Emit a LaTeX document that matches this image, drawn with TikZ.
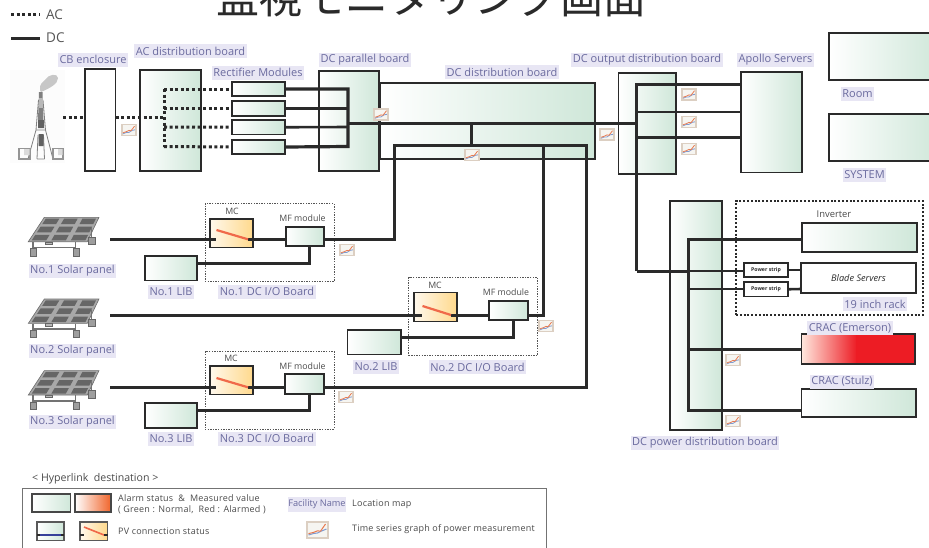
\documentclass[tikz,border=0pt]{standalone}
\usepackage{fontspec}
\setmainfont{Open Sans}
\newfontfamily\cjkfont{Noto Sans CJK JP}
\newfontfamily\legfont[LetterSpace=2.5]{Open Sans}
\usetikzlibrary{calc}
\definecolor{gr}{HTML}{CFE7D9}
\definecolor{lab}{HTML}{E8E6F4}
\definecolor{labt}{HTML}{6A6A9E}
\definecolor{ink}{HTML}{2A2A2A}
\definecolor{mcr}{HTML}{FFD98C}
\definecolor{mcl}{HTML}{FFF8EC}
\definecolor{sw}{HTML}{F0694A}
\definecolor{red1}{HTML}{ED1C24}
\definecolor{chf}{HTML}{DCCFC2}
\definecolor{chi}{HTML}{F6F5F1}
\definecolor{chb}{HTML}{7F9BD0}
\definecolor{chr}{HTML}{E8794F}
\definecolor{kor}{HTML}{F0642A}
\definecolor{kbl}{HTML}{36409A}
\definecolor{peach}{HTML}{FFE6DC}
\definecolor{midr}{HTML}{F26A4C}
\tikzset{
  gbox/.style={draw=ink,line width=1.4pt,left color=white,right color=gr,inner sep=0pt,outer sep=0pt,anchor=north west},
  wbox/.style={draw=ink,line width=1.4pt,fill=white,inner sep=0pt,outer sep=0pt,anchor=north west},
  mcbox/.style={draw=ink,line width=1.4pt,left color=mcl,right color=mcr,inner sep=0pt,outer sep=0pt,anchor=north west},
  dcl/.style={draw=ink,line width=3pt,line join=miter},
  dcn/.style={draw=ink,line width=2.6pt,line join=miter},
  acl/.style={draw=ink,line width=3pt,dash pattern=on 3pt off 2.6pt},
  dotbox/.style={draw=ink!80,line width=0.7pt,dash pattern=on 1.4pt off 1.2pt,inner sep=0pt,outer sep=0pt,anchor=north west},
  rackbox/.style={draw=ink,line width=2pt,dash pattern=on 2pt off 1.8pt,inner sep=0pt,outer sep=0pt,anchor=north west},
  lbl/.style={fill=lab,text=labt,font=\fontsize{11}{12}\selectfont,inner xsep=1.5pt,inner ysep=0pt,minimum height=14pt,outer sep=0pt},
  small/.style={text=ink!85,font=\fontsize{8.8}{10}\selectfont,inner sep=0pt},
  legt/.style={text=ink!85,font=\legfont\fontsize{9}{10}\selectfont,inner sep=0pt,anchor=west},
  sw line/.style={draw=sw,line width=2.2pt},
  chart/.pic={
    \path[fill=chf] (-8,-6.3) rectangle (8,6.3);
    \path[fill=chi] (-6.4,-4.8) rectangle (6.4,4.8);
    \draw[chb,line width=.8pt] (-6,3.8) -- (-3,2.6) -- (0,2.4) -- (3,.4) -- (6,-.2);
    \draw[chr,line width=.8pt] (-6,2.8) -- (-3,1.8) -- (0,.4) -- (2,.8) -- (5.5,-3.8);
  },
  bigchart/.pic={
    \path[fill=chf] (-11.5,-9) rectangle (11.5,9);
    \path[fill=chi] (-9.5,-7) rectangle (9.5,7);
    \draw[chb,line width=1pt] (-9,5) -- (-4,3.5) -- (0,3) -- (4,1) -- (9,-1);
    \draw[chr,line width=1pt] (-9,3.6) -- (-4,2.4) -- (0,.8) -- (3,1.2) -- (8,-6);
  },
  solar/.pic={
    \path[fill=black!34,draw=black!58,line width=.6pt] (44.3,217.3) -- (99,217.3) -- (87.3,241.7) -- (28.3,241.7) -- cycle;
    \foreach \i in {0,1,2}{\foreach \j in {0,1,2}{
      \pgfmathsetmacro\va{(\j+.16)/3}\pgfmathsetmacro\vb{(\j+.84)/3}
      \pgfmathsetmacro\ua{(\i+.13)/3}\pgfmathsetmacro\ub{(\i+.87)/3}
      \path[fill=black!60]
       ({44.3-16*\va+\ua*(54.7+4.3*\va)},{217.3+24.4*\va}) --
       ({44.3-16*\va+\ub*(54.7+4.3*\va)},{217.3+24.4*\va}) --
       ({44.3-16*\vb+\ub*(54.7+4.3*\vb)},{217.3+24.4*\vb}) --
       ({44.3-16*\vb+\ua*(54.7+4.3*\vb)},{217.3+24.4*\vb}) -- cycle;
    }}
    \draw[black!55,line width=1.6pt] (33,242) -- (33,249) (75.5,242) -- (75.5,249) (91.5,228) -- (91.5,238) (33,247.5) -- (76,247.5);
    \path[fill=black!38,draw=black!60,line width=.5pt] (30,248.5) rectangle (36.5,256) (73,248.5) rectangle (79.5,256) (88.3,237.3) rectangle (95,244.5);
    \path[fill=black!28,draw=black!60,line width=.4pt] (45,241.7) rectangle (51.7,244.3);
  },
}
\newcommand{\bxn}[7][]{\node[#2,minimum width={#6pt-#4pt},minimum height={#7pt-#5pt},#1] (#3) at (#4,#5) {};}
\begin{document}
\begin{tikzpicture}[x=1pt,y=-1pt]
\useasboundingbox (0,0) rectangle (929,547);
\clip (0,0) rectangle (929,547);
% title
\node[anchor=base west,inner sep=0pt,text=ink,font=\cjkfont\fontsize{43}{45}\selectfont] (title) at (216,13.5) {監視モニタリング画面};
% legend top
\coordinate (acA) at (11,14.5); \coordinate (acB) at (40,14.5);
\coordinate (dcA) at (11,38); \coordinate (dcB) at (40,38);
\draw[acl] (acA) -- (acB);
\draw[dcl] (dcA) -- (dcB);
\node[anchor=west,inner sep=0pt,text=ink!80,font=\fontsize{13.5}{15}\selectfont] (acT) at (46,14.5) {AC};
\node[anchor=west,inner sep=0pt,text=ink!80,font=\fontsize{13.5}{15}\selectfont] (dcT) at (46,38) {DC};
% tower
\begin{scope}
\path[fill=black!1] (10,70) rectangle (65,163);
\path[fill=black!22] (40,90) .. controls (39,84) and (43,82) .. (45,80) .. controls (48,74) and (58,73) .. (58,78) .. controls (58,84) and (50,88) .. (41,92) -- cycle;
\draw[black!50,line width=.8pt] (38.5,100) -- (36,130) -- (28,159) (43,100) -- (45.5,130) -- (53,159) (36,130) -- (45.5,130) (37,159) -- (38,135) (44.5,159) -- (43.5,135) (37,159) -- (44.5,159);
\path[fill=black!50] (39,92) -- (42.5,92) -- (43.5,120) -- (38,120) -- cycle;
\path[fill=black!28] (38.5,98) rectangle (43,108);
\path[fill=black!62] (38,120) rectangle (44,128) (38.5,134) rectangle (43.5,146);
\draw[black!42,line width=1.1pt] (19,148.5) rectangle (30,159) (53,148.5) rectangle (63,159);
\path[fill=black!14] (24,149) rectangle (29.5,155) (58,149) rectangle (62.5,155);
\end{scope}
% boxes
\bxn{wbox}{cb}{85}{69}{115.5}{171}
\bxn{gbox}{acb}{140}{70}{201}{171}
\bxn{gbox}{ddb}{380}{83}{595}{159}
\bxn{gbox}{dpb}{319}{71}{379}{171}
\bxn{gbox}{dob}{618.5}{73}{676}{174}
\bxn{gbox}{apollo}{741}{72}{802}{172.5}
\bxn{gbox}{r1}{232}{82}{285}{96}
\bxn{gbox}{r2}{232}{101}{285}{116}
\bxn{gbox}{r3}{232}{120}{285}{134.5}
\bxn{gbox}{r4}{232}{140}{285}{154}
\bxn{gbox}{room}{829}{33}{940}{80}
\bxn{gbox}{sys}{829}{114}{940}{161}
% DC I/O dashed boxes
\bxn{dotbox}{io1}{205}{203.5}{334}{281.5}
\bxn{dotbox}{io2}{408.5}{277.5}{537.5}{355.5}
\bxn{dotbox}{io3}{205}{351.5}{334}{429}
% junction coordinates
\coordinate (jt) at (63,117.5);
\coordinate (ja) at (164,117.5);
\coordinate (ja1) at (164,89);
\coordinate (ja2) at (164,108.5);
\coordinate (ja3) at (164,127);
\coordinate (ja4) at (164,146.5);
\coordinate (jd1) at (348,89);
\coordinate (jd2) at (348,108.5);
\coordinate (jd3) at (348,127);
\coordinate (jd4) at (348,146.5);
\coordinate (jm) at (348,123.5);
\coordinate (jb) at (636.5,123.5);
\coordinate (jc) at (471.6,123.5);
\coordinate (jc2) at (471.6,145);
\coordinate (jl) at (394,145);
\coordinate (jr) at (586,145);
\coordinate (jn) at (543.5,145);
\coordinate (jbt) at (636.5,84.5);
\coordinate (jbl) at (636.5,271);
\coordinate (jv) at (688,271);
\coordinate (jvt) at (688,239);
\coordinate (jvm) at (688,289);
\coordinate (jvc) at (688,349.5);
\coordinate (jvb) at (688,410);
% AC lines
\draw[acl] (jt) -- (cb.west|-jt);
\draw[acl] (cb.east|-jt) -- (ja);
\draw[acl] (ja1) -- (ja4);
\draw[acl] (ja1) -- (r1.west);
\draw[acl] (ja2) -- (r2.west);
\draw[acl] (ja3) -- (r3.west);
\draw[acl] (ja4) -- (r4.west);
% DC lines top
\draw[dcl,line width=3.2pt] (r1.east) -- (jd1) -- (jd4) -- (r4.east);
\draw[dcn] (r2.east) -- (jd2);
\draw[dcn] (r3.east) -- (jd3);
\draw[dcl] (jm) -- (jb);
\draw[dcl] (jc) -- (jc2);
\draw[dcl] (jbl) -- (jbt) -- (apollo.west|-jbt);
\coordinate (jb2) at (636.5,112); \coordinate (jb3) at (636.5,137.5);
\draw[dcn] (jb2) -- (apollo.west|-jb2);
\draw[dcn] (jb3) -- (apollo.west|-jb3);
% MC, MF, LIB
\bxn{mcbox}{mc1}{210}{219}{253}{247.6}
\bxn{gbox}{mf1}{286}{227}{324}{246}
\bxn{gbox}{lib1}{145}{256}{197}{280.5}
\bxn{mcbox}{mc2}{414}{292.7}{457}{321.7}
\bxn{gbox}{mf2}{489}{301}{528}{320}
\bxn{gbox}{lib2}{347.5}{330}{401}{354.5}
\bxn{mcbox}{mc3}{210}{366}{253}{394.5}
\bxn{gbox}{mf3}{285}{374}{324}{394}
\bxn{gbox}{lib3}{145}{403}{197}{428}
% PV coordinates
\coordinate (s1) at (110,239); \coordinate (s1e) at (216,239); \coordinate (s1o) at (248,239);
\coordinate (s2) at (110,315); \coordinate (s2e) at (422,315); \coordinate (s2o) at (451,315);
\coordinate (s3) at (110,387); \coordinate (s3e) at (216,387); \coordinate (s3o) at (248,387);
\draw[dcl] (s1) -- (s1e);
\draw[dcl] (s2) -- (s2e);
\draw[dcl] (s3) -- (s3e);
\draw[dcl] (s1o) -- (mf1.west|-s1o);
\draw[dcl] (s2o) -- (mf2.west|-s2o);
\draw[dcl] (s3o) -- (mf3.west|-s3o);
\draw[sw line] (216.5,230) -- (248,239.3);
\draw[sw line] (422.5,306) -- (451,315);
\draw[sw line] (216.5,378) -- (248,387.3);
\coordinate (l1) at (309,263); \coordinate (l2) at (513,337); \coordinate (l3) at (309,410.5);
\draw[dcl] (lib1.east|-l1) -- (l1) -- (l1|-mf1.south);
\draw[dcl] (lib2.east|-l2) -- (l2) -- (l2|-mf2.south);
\draw[dcl] (lib3.east|-l3) -- (l3) -- (l3|-mf3.south);
% DC returns
\draw[dcl] (mf1.east|-s1) -- (jl|-s1) -- (jl) -- (jr) -- (jr|-s3) -- (mf3.east|-s3);
\draw[dcl] (jn) -- (jn|-s2) -- (mf2.east|-s2);
% right side
\bxn{gbox}{pdb}{670}{201}{722}{430}
\bxn{rackbox}{rack}{736}{201}{923}{315}
\bxn{gbox}{inv}{802}{223}{917}{252}
\bxn{wbox}{blade}{801}{263}{916}{293}
\bxn{wbox}{ps1}{744}{263}{788}{277}
\bxn{wbox}{ps2}{744}{282}{788}{296.5}
\path[left color=peach,middle color=midr,right color=red1] (802,334) rectangle (857,364);
\path[fill=red1] (856,334) rectangle (915,364);
\bxn[fill=none]{wbox}{em}{801.5}{334}{915}{364}
\bxn{gbox}{st}{801.5}{389}{916}{417}
\draw[dcl] (jbl) -- (jv);
\draw[dcl] (jvb-|st.west) -- (jvb) -- (jvt) -- (inv.west|-jvt);
\draw[dcn] (jv) -- (ps1.west|-jv);
\draw[dcn] (jvm) -- (ps2.west|-jvm);
\coordinate (b1) at (801,270); \coordinate (b2) at (801,289);
\draw[dcn] (ps1.east) -- (b1);
\draw[dcn] (ps2.east) -- (b2);
\draw[dcl] (jvc) -- (em.west|-jvc);
\node[inner sep=0pt,font=\bfseries\fontsize{5.2}{6}\selectfont,text=ink] (pst1) at (ps1.center) {Power strip};
\node[inner sep=0pt,font=\bfseries\fontsize{5.2}{6}\selectfont,text=ink] (pst2) at (ps2.center) {Power strip};
\node[inner sep=0pt,font=\itshape\fontsize{9.2}{10}\selectfont,text=ink] (bst) at (blade.center) {Blade Servers};
\node[small,font=\fontsize{9.4}{10}\selectfont] (invt) at (834,214) {Inverter};
% labels
\node[lbl] (l01) at (93,59.5) {CB enclosure};
\node[lbl] (l02) at (190.5,51) {AC distribution board};
\node[lbl] (l03) at (258,72.5) {Rectifier Modules};
\node[lbl] (l04) at (365,59.5) {DC parallel board};
\node[lbl] (l05) at (502,72) {DC distribution board};
\node[lbl] (l06) at (647,59.5) {DC output distribution board};
\node[lbl] (l07) at (775.5,59.5) {Apollo Servers};
\node[lbl] (l08) at (857.5,93.5) {Room};
\node[lbl] (l09) at (864.5,174.5) {SYSTEM};
\node[lbl] (l10) at (72.5,270.5) {No.1 Solar panel};
\node[lbl] (l11) at (72.5,350.5) {No.2 Solar panel};
\node[lbl] (l12) at (72.5,422) {No.3 Solar panel};
\node[lbl] (l13) at (171,291.5) {No.1 LIB};
\node[lbl] (l14) at (267,291.5) {No.1 DC I/O Board};
\node[lbl] (l15) at (171,438.5) {No.3 LIB};
\node[lbl] (l16) at (267,438.5) {No.3 DC I/O Board};
\node[lbl] (l17) at (376,367) {No.2 LIB};
\node[lbl] (l18) at (477.5,367) {No.2 DC I/O Board};
\node[lbl] (l19) at (875,304) {19 inch rack};
\node[lbl] (l20) at (850,328) {CRAC (Emerson)};
\node[lbl] (l21) at (842,381.5) {CRAC (Stulz)};
\node[lbl] (l22) at (705,443) {DC power distribution board};
\node[small] (mct1) at (232,211.5) {MC};
\node[small] (mct2) at (435,285.5) {MC};
\node[small] (mct3) at (231,358.5) {MC};
\node[small] (mft1) at (302.5,218) {MF module};
\node[small] (mft2) at (506,292) {MF module};
\node[small] (mft3) at (302.5,366) {MF module};
% solar panels
\pic at (0,0) {solar};
\pic at (0,81.7) {solar};
\pic at (0,153.3) {solar};
% charts
\foreach \ax/\ay in {129/130,381/114.5,689/94.5,689/122,689/149,607/134.5,472/155,347/250,546/326,346/397,733/360,733/421}{
  \pic at (\ax,\ay) {chart};
}
% hyperlink legend
\node[anchor=west,inner sep=0pt,text=ink!85,font=\fontsize{10.6}{12}\selectfont] (hl) at (32,478.5) {< Hyperlink\ \ destination >};
\node[draw=black!55,line width=.9pt,inner sep=0pt,outer sep=0pt,anchor=north west,minimum width=524pt,minimum height=80pt] (hbox) at (22.5,488) {};
\bxn[draw=black!72]{gbox}{k1}{32}{494}{70.7}{512}
\bxn[draw=black!72,left color=white,right color=kor]{gbox}{k2}{75}{494}{111}{512}
\bxn[draw=black!65]{gbox}{k3}{37}{522}{64}{540.5}
\coordinate (kb) at (37,535); \coordinate (kc) at (64,535);
\draw[kbl,line width=1.8pt] (kb) -- (kc);
\draw[ink,line width=1.6pt] (kb) -- ++(3,0) (kc) -- ++(-3,0);
\bxn[draw=black!65]{mcbox}{k4}{80}{522}{107.5}{540.5}
\draw[sw line,line width=1.6pt] (84,527) -- (104,535);
\draw[ink,line width=1.6pt] (80,535) -- (84,535) (104,535) -- (107.5,535);
\node[legt] (t1) at (118,498) {Alarm status \ \& \ Measured value};
\node[legt] (t2) at (118,510) {( Green : Normal,\ \ Red : Alarmed )};
\node[legt] (t3) at (118,531.5) {PV connection status};
\node[lbl,font=\fontsize{9.2}{10}\selectfont,inner xsep=.5pt,minimum height=15pt] (t4) at (317,504.5) {Facility Name};
\node[legt] (t5) at (352,504) {Location map};
\node[legt] (t6) at (352,529) {Time series graph of power measurement};
\pic at (317.5,530) {bigchart};
\end{tikzpicture}
\end{document}
